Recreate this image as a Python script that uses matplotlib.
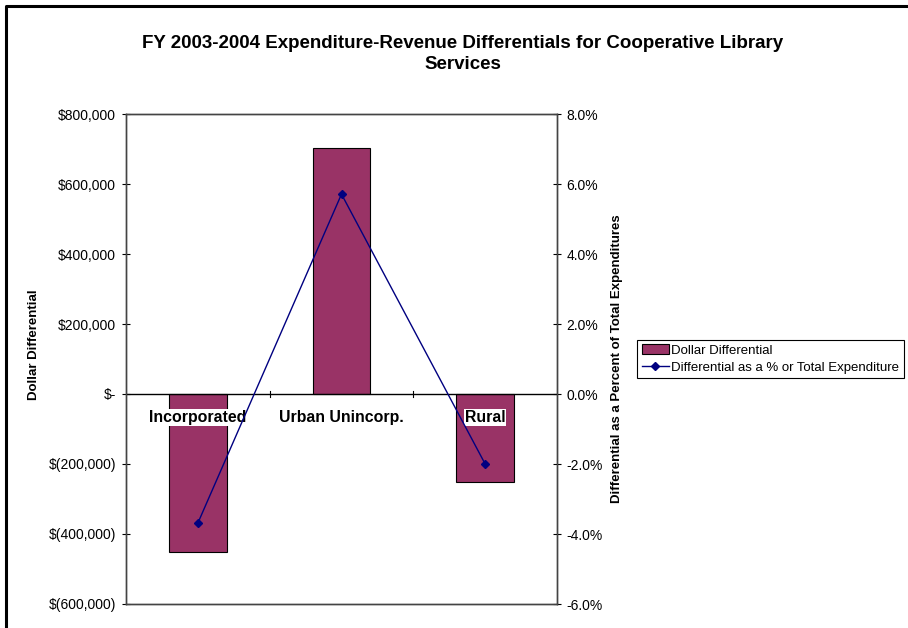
import matplotlib
matplotlib.use("Agg")
import matplotlib.pyplot as plt
from matplotlib.ticker import FuncFormatter, FixedLocator
from matplotlib.lines import Line2D

plt.rcParams['font.family'] = ['Liberation Sans', 'DejaVu Sans']

categories = ['Incorporated', 'Urban Unincorp.', 'Rural']
dollar_diff = [-452000, 703000, -251000]
pct_diff = [-0.0369, 0.0571, -0.0200]

fig = plt.figure(figsize=(9.08, 6.28), dpi=100)
W, H = 908, 628
ax = fig.add_axes([126 / W, 1 - 604 / H, (557 - 126) / W, (604 - 114) / H])

x = list(range(len(categories)))
ax.bar(x, dollar_diff, width=0.4, color='#993366', edgecolor='black', linewidth=0.8,
       label='Dollar Differential', zorder=2)
ax.set_xlim(-0.5, 2.5)
ax.set_ylim(-600000, 800000)
ax.set_yticks(range(-600000, 800001, 200000))


def dollar(v, pos):
    if v == 0:
        return '$-'
    if v < 0:
        return '$({:,.0f})'.format(-v)
    return '${:,.0f}'.format(v)


ax.yaxis.set_major_formatter(FuncFormatter(dollar))
ax.tick_params(axis='y', direction='inout', length=6, labelsize=10, pad=4)
ax.set_ylabel('Dollar Differential', fontsize=9.5, fontweight='bold')
ax.yaxis.set_label_coords((40 - 126) / 431, 0.53)

# zero line with category boundary ticks
ax.axhline(0, color='black', linewidth=1, zorder=3)
ax.set_xticks([])
for b in [0.5, 1.5]:
    ax.plot([b, b], [-8000, 8000], color='black', linewidth=0.8, zorder=3)

for i, c in enumerate(categories):
    ax.annotate(c, (i, 0), xytext=(0, -17), textcoords='offset points',
                ha='center', va='center', fontsize=11.4, fontweight='bold',
                bbox=dict(facecolor='white', edgecolor='none', pad=0.5), zorder=4)

for s in ax.spines.values():
    s.set_color('#444444')
    s.set_linewidth(1)

ax2 = ax.twinx()
ax2.plot(x, pct_diff, color='#000080', linewidth=1, marker='D', markersize=4,
         label='Differential as a % or Total Expenditure')
ax2.set_ylim(-0.06, 0.08)
ax2.yaxis.set_major_locator(FixedLocator([-0.06, -0.04, -0.02, 0, 0.02, 0.04, 0.06, 0.08]))
ax2.yaxis.set_major_formatter(FuncFormatter(lambda v, p: '{:.1f}%'.format(v * 100)))
ax2.tick_params(axis='y', direction='inout', length=6, labelsize=10, pad=4)
ax2.set_ylabel('Differential as a Percent of Total Expenditures', fontsize=9.5,
               fontweight='bold')
ax2.yaxis.set_label_coords((611 - 126) / 431, 0.5)
for s in ax2.spines.values():
    s.set_color('#444444')
    s.set_linewidth(1)

fig.text(463 / W, 1 - 54 / H,
         'FY 2003-2004 Expenditure-Revenue Differentials for Cooperative Library\nServices',
         ha='center', va='center', fontsize=13.5, fontweight='bold', linespacing=1.35)

h1, l1 = ax.get_legend_handles_labels()
h2, l2 = ax2.get_legend_handles_labels()
leg = fig.legend(h1 + h2, l1 + l2, loc='center left',
                 bbox_to_anchor=(637 / W, 1 - 359 / H), fontsize=9.5,
                 frameon=True, fancybox=False, edgecolor='black', framealpha=1,
                 borderpad=0.35, labelspacing=0.35, handlelength=2.1, handletextpad=0.15,
                 borderaxespad=0)
leg.get_frame().set_linewidth(0.8)

# outer chart border (left and top)
fig.add_artist(Line2D([6 / W, 6 / W, 1], [0, 1 - 6 / H, 1 - 6 / H],
                      color='black', linewidth=2.2, transform=fig.transFigure))

fig.savefig('out.png', dpi=100)
